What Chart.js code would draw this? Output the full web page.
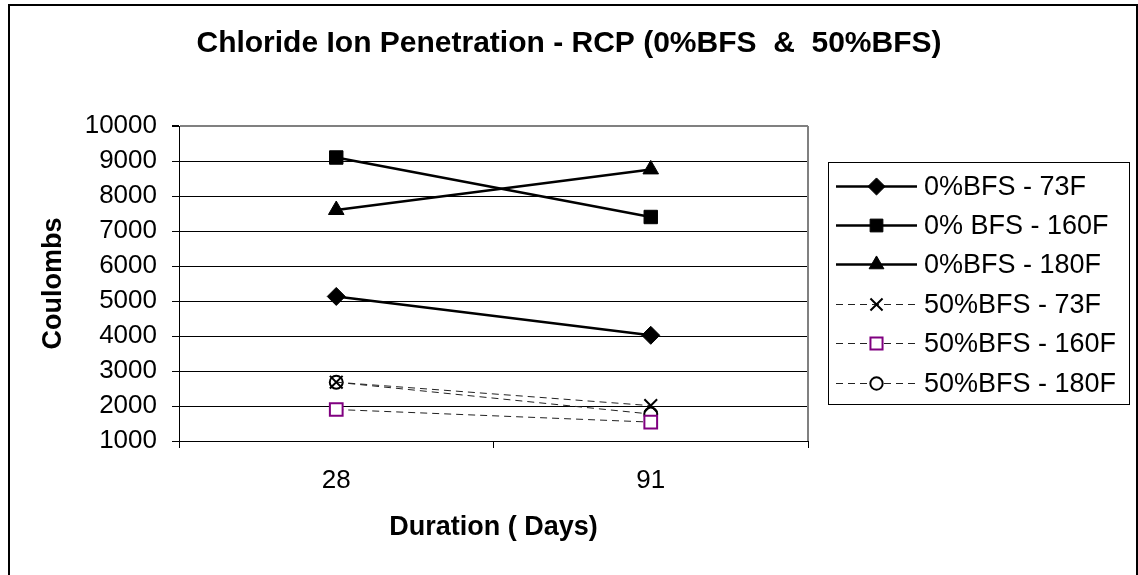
<!DOCTYPE html>
<html>
<head>
<meta charset="utf-8">
<script src="https://cdn.jsdelivr.net/npm/chart.js@4/dist/chart.umd.min.js"></script>
<style>
html,body{margin:0;padding:0;background:#fff;}
canvas{display:block;}
</style>
</head>
<body>
<canvas id="c" width="1138" height="575"></canvas>
<script>
// ---- data ----
const categories = ['28', '91'];
const seriesNames = ['0%BFS - 73F', '0% BFS - 160F', '0%BFS - 180F', '50%BFS - 73F', '50%BFS - 160F', '50%BFS - 180F'];
const bfs0_73F   = [5130, 4020];
const bfs0_160F  = [9100, 7400];
const bfs0_180F  = [7600, 8760];
const bfs50_73F  = [2680, 2010];
const bfs50_160F = [1900, 1540];
const bfs50_180F = [2680, 1770];
const yTicks = [1000, 2000, 3000, 4000, 5000, 6000, 7000, 8000, 9000, 10000];
const chartTitle = 'Chloride Ion Penetration - RCP (0%BFS  &  50%BFS)';
const xTitle = 'Duration ( Days)';
const yTitle = 'Coulombs';

const FAM = '"Liberation Sans", Arial, Helvetica, sans-serif';

function solid(label, data, pointStyle, radius) {
  return {
    label, data,
    borderColor: '#000', borderWidth: 2.5,
    pointStyle, pointRadius: radius, pointHoverRadius: radius,
    pointBackgroundColor: '#000', pointBorderColor: '#000', pointBorderWidth: 1,
    fill: false, tension: 0
  };
}
function dashed(label, data, pointStyle, radius, stroke, fillc) {
  return {
    label, data,
    borderColor: '#222', borderWidth: 1, borderDash: [7, 5],
    pointStyle, pointRadius: radius, pointHoverRadius: radius,
    pointBackgroundColor: fillc, pointBorderColor: stroke, pointBorderWidth: 2,
    fill: false, tension: 0
  };
}

const datasets = [
  solid(seriesNames[0], bfs0_73F, 'rectRot', 9),
  solid(seriesNames[1], bfs0_160F, 'rect', 9.5),
  solid(seriesNames[2], bfs0_180F, 'triangle', 9),
  dashed(seriesNames[3], bfs50_73F, 'crossRot', 9, '#000', '#000'),
  dashed(seriesNames[4], bfs50_160F, 'rect', 9, '#800080', '#fff'),
  dashed(seriesNames[5], bfs50_180F, 'circle', 6.5, '#000', '#fff')
];

const decor = {
  id: 'decor',
  beforeDraw(chart) {
    const ctx = chart.ctx;
    ctx.save();
    ctx.fillStyle = '#fff';
    ctx.fillRect(0, 0, chart.width, chart.height);
    ctx.restore();
  },
  afterDraw(chart) {
    const ctx = chart.ctx;
    const a = chart.chartArea;
    ctx.save();
    // plot area right border (gray)
    ctx.strokeStyle = '#808080';
    ctx.lineWidth = 2;
    ctx.beginPath();
    ctx.moveTo(a.right, a.top);
    ctx.lineTo(a.right, a.bottom);
    ctx.stroke();
    // outer frame
    ctx.strokeStyle = '#000';
    ctx.lineWidth = 2;
    ctx.strokeRect(9, 5, 1128, 620);

    // legend
    const bx = 828.5, by = 162.5, bw = 301, bh = 242;
    ctx.lineWidth = 1;
    ctx.strokeStyle = '#000';
    ctx.strokeRect(bx, by, bw, bh);
    ctx.font = '27px ' + FAM;
    ctx.textBaseline = 'middle';
    ctx.textAlign = 'left';
    chart.data.datasets.forEach((ds, i) => {
      const y = Math.round(185.5 + i * 39.4) + 0.5;
      ctx.save();
      ctx.strokeStyle = ds.borderColor;
      ctx.lineWidth = ds.borderWidth;
      ctx.setLineDash(ds.borderDash || []);
      ctx.beginPath();
      ctx.moveTo(836, y);
      ctx.lineTo(917, y);
      ctx.stroke();
      ctx.restore();
      ctx.save();
      ctx.fillStyle = ds.pointBackgroundColor;
      ctx.strokeStyle = ds.pointBorderColor;
      ctx.lineWidth = ds.pointBorderWidth;
      ctx.setLineDash([]);
      Chart.helpers.drawPoint(ctx, {
        pointStyle: ds.pointStyle,
        radius: ds.pointRadius * 0.95,
        rotation: 0,
        borderWidth: ds.pointBorderWidth
      }, 876.5, y);
      ctx.restore();
      ctx.fillStyle = '#000';
      ctx.fillText(ds.label, 924, y + 1);
    });
    ctx.restore();
  }
};

new Chart(document.getElementById('c'), {
  type: 'line',
  data: { labels: categories, datasets },
  options: {
    responsive: false,
    devicePixelRatio: 1,
    animation: false,
    events: [],
    layout: { padding: 0 },
    plugins: {
      legend: { display: false },
      tooltip: { enabled: false },
      title: {
        display: true,
        text: chartTitle,
        color: '#000',
        font: { family: FAM, size: 30, weight: 'bold', lineHeight: 1.2 },
        padding: { top: 26, bottom: 64 }
      }
    },
    scales: {
      x: {
        type: 'category',
        offset: true,
        afterFit: s => { s.height = 134; },
        ticks: { color: '#000', font: { family: FAM, size: 26 }, padding: 17, maxRotation: 0 },
        grid: { offset: true, drawOnChartArea: false, drawTicks: true, tickLength: 7, tickColor: '#000', lineWidth: 1 },
        border: { display: true, color: '#000', width: 1 },
        title: {
          display: true, text: xTitle, color: '#000',
          font: { family: FAM, size: 27, weight: 'bold', lineHeight: 1.2 },
          padding: { top: 0, bottom: 31 }
        }
      },
      y: {
        type: 'linear',
        position: 'left',
        min: yTicks[0],
        max: yTicks[yTicks.length - 1],
        afterFit: s => { s.width = 179; },
        afterBuildTicks: s => { s.ticks = yTicks.map(v => ({ value: v })); },
        ticks: { color: '#000', font: { family: FAM, size: 26 }, padding: 15, callback: v => String(v) },
        grid: {
          color: c => (c.tick && c.tick.value === yTicks[yTicks.length - 1]) ? '#808080' : '#000',
          lineWidth: c => (c.tick && c.tick.value === yTicks[yTicks.length - 1]) ? 2 : 1,
          drawTicks: true, tickLength: 7, tickColor: '#000'
        },
        border: { display: true, color: '#000', width: 1 },
        title: {
          display: true, text: yTitle, color: '#000',
          font: { family: FAM, size: 27, weight: 'bold', lineHeight: 1.2 },
          padding: { top: 37, bottom: 0 }
        }
      },
      spacer: {
        type: 'linear',
        position: 'right',
        display: true,
        afterFit: s => { s.width = 330; },
        ticks: { display: false },
        grid: { display: false, drawOnChartArea: false },
        border: { display: false }
      }
    }
  },
  plugins: [decor]
});
</script>
</body>
</html>
